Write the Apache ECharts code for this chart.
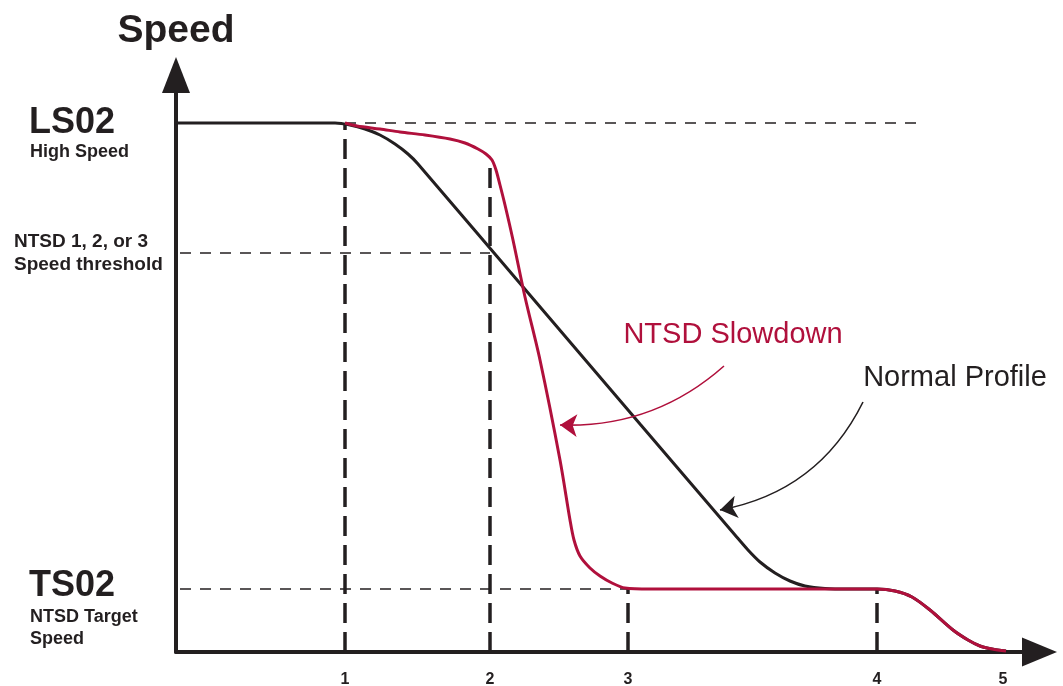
<!DOCTYPE html>
<html>
<head>
<meta charset="utf-8">
<script src="https://cdn.jsdelivr.net/npm/echarts@6/dist/echarts.min.js"></script>
<style>html,body{margin:0;padding:0;background:#fff}#c{width:1063px;height:686px}</style>
</head>
<body>
<div id="c"></div>
<script>
// ---- data (x: travel distance, y: speed; arbitrary units) ----
const LS02 = 52.9;
const THRESH = 39.9;
const TS02 = 6.3;
const xTickValues = [16.9, 31.4, 45.2, 70.1, 82.7];
const xTickLabels = ['1', '2', '3', '4', '5'];
const normalX = [0, 15.9, 17.4, 18.9, 20.4, 21.9, 23.2, 24.2, 35.9, 46.4, 55.9, 57.2, 58.4, 59.9, 61.4, 62.9, 64.9, 67.4, 70.1, 71.9, 73.6, 75.4, 77.7, 79.2, 80.4, 81.6, 83.0];
const normalY = [52.9, 52.9, 52.7, 52.3, 51.7, 50.8, 49.8, 48.8, 35.1, 22.8, 11.7, 10.2, 9.0, 7.9, 7.1, 6.6, 6.35, 6.3, 6.3, 6.1, 5.5, 4.2, 2.2, 1.2, 0.6, 0.3, 0.1];
const ntsdX = [16.9, 18.1, 20.4, 22.4, 24.9, 27.4, 28.9, 30.2, 31.0, 31.6, 32.0, 32.4, 32.9, 33.7, 34.9, 36.4, 38.4, 39.4, 39.8, 40.4, 41.4, 42.4, 43.6, 44.9, 47.4, 70.1, 71.9, 73.6, 75.4, 77.7, 79.2, 80.4, 81.6, 83.0];
const ntsdY = [52.9, 52.6, 52.3, 52.0, 51.7, 51.3, 50.9, 50.3, 49.8, 49.2, 48.2, 46.7, 44.7, 41.2, 35.5, 29.2, 19.2, 13.2, 11.2, 9.6, 8.4, 7.6, 6.9, 6.4, 6.3, 6.3, 6.1, 5.5, 4.2, 2.2, 1.2, 0.6, 0.3, 0.1];
// horizontal guides: [xStart, xEnd, y]
const guidesH = [[16.9, 74.9, LS02], [0.4, 31.4, THRESH], [0.4, 45.2, TS02]];
// vertical guides: [x, yTop]
const guidesV = [[16.9, LS02], [31.4, 49.2], [45.2, TS02], [70.1, TS02]];
// annotations
const annotTexts = [
  { name: 'NTSD Slowdown', value: [55.7, 31.7], color: '#B0103C' },
  { name: 'Normal Profile', value: [77.9, 27.4], color: '#231F20' }
];
const annotArrows = [
  { coords: [[54.8, 28.6], [38.4, 22.7]], color: '#B0103C', curveness: 0.2 },
  { coords: [[68.7, 25.0], [54.4, 14.2]], color: '#231F20', curveness: 0.25 }
];
const yLabelValues = [TS02, THRESH, LS02];

const INK = '#231F20';
const RED = '#B0103C';
const FONT = '"Liberation Sans", Arial, Helvetica, sans-serif';

const zip = (xs, ys) => xs.map((x, i) => [x, ys[i]]);

const series = [];
guidesH.forEach(g => series.push({
  type: 'line', data: [[g[0], g[2]], [g[1], g[2]]], symbol: 'none', silent: true,
  lineStyle: { color: INK, width: 1.5, type: [11, 9] }, z: 1
}));
guidesV.forEach(g => series.push({
  type: 'line', data: [[g[0], 0], [g[0], g[1]]], symbol: 'none', silent: true,
  lineStyle: { color: INK, width: 3.5, type: [20, 9] }, z: 1
}));
series.push({
  type: 'line', data: zip(normalX, normalY), symbol: 'none', smooth: 0.3,
  lineStyle: { color: INK, width: 3 }, z: 3
});
series.push({
  type: 'line', data: zip(ntsdX, ntsdY), symbol: 'none', smooth: 0.3,
  lineStyle: { color: RED, width: 3 }, z: 4
});
annotArrows.forEach(a => series.push({
  type: 'lines', coordinateSystem: 'cartesian2d', silent: true,
  symbol: ['none', 'arrow'], symbolSize: 17,
  lineStyle: { color: a.color, width: 1.6, curveness: a.curveness, opacity: 1 },
  data: [{ coords: a.coords }], z: 5
}));
series.push({
  type: 'scatter', symbolSize: 0, silent: true,
  itemStyle: { opacity: 1 },
  data: annotTexts.map(t => ({ name: t.name, value: t.value, label: { color: t.color } })),
  label: { show: true, position: 'inside', formatter: p => p.name, fontSize: 29, fontFamily: FONT, textBorderWidth: 0, textShadowBlur: 0, opacity: 1 },
  z: 6
});

const yLabelText = {};
yLabelText[LS02] = '{p20| }\n{big|LS02}\n{s20|High Speed}';
yLabelText[THRESH] = '{s23|NTSD 1, 2, or 3}\n{s23|Speed threshold}';
yLabelText[TS02] = '{p39| }\n{big|TS02}\n{s22|NTSD Target}\n{s22|Speed}';

const option = {
  animation: false,
  backgroundColor: '#fff',
  grid: { left: 176, right: 23.5, top: 75, bottom: 34, outerBoundsMode: 'none', containLabel: false },
  xAxis: {
    type: 'value', min: 0, max: 86.35,
    splitLine: { show: false }, axisTick: { show: false },
    axisLine: { show: true, onZero: false, symbol: ['none', 'triangle'], symbolSize: [29, 35], lineStyle: { color: INK, width: 4 } },
    axisLabel: {
      customValues: xTickValues, margin: 20, color: INK, fontSize: 16, fontWeight: 'bold', fontFamily: FONT,
      formatter: v => { const i = xTickValues.indexOf(v); return i >= 0 ? xTickLabels[i] : ''; }
    }
  },
  yAxis: {
    type: 'value', min: 0, max: 57.7,
    name: 'Speed', nameLocation: 'end', nameGap: 24,
    nameTextStyle: { fontSize: 39, fontWeight: 'bold', color: INK, fontFamily: FONT, align: 'center' },
    splitLine: { show: false }, axisTick: { show: false },
    axisLine: { show: true, onZero: false, symbol: ['none', 'triangle'], symbolSize: [28, 36], lineStyle: { color: INK, width: 4 } },
    axisLabel: {
      customValues: yLabelValues, margin: 162, align: 'left', color: INK, fontFamily: FONT,
      formatter: v => yLabelText[v] || '',
      rich: {
        big: { fontSize: 36, fontWeight: 'bold', lineHeight: 39, color: INK, fontFamily: FONT, padding: [0, 0, 0, 15] },
        s20: { fontSize: 18, fontWeight: 'bold', lineHeight: 20, color: INK, fontFamily: FONT, padding: [0, 0, 0, 16] },
        s22: { fontSize: 18, fontWeight: 'bold', lineHeight: 22, color: INK, fontFamily: FONT, padding: [0, 0, 0, 16] },
        s23: { fontSize: 19, fontWeight: 'bold', lineHeight: 23, color: INK, fontFamily: FONT },
        p20: { fontSize: 10, lineHeight: 20 },
        p39: { fontSize: 10, lineHeight: 39 }
      }
    }
  },
  series: series
};

const chart = echarts.init(document.getElementById('c'), null, { renderer: 'canvas' });
chart.setOption(option);
</script>
</body>
</html>
